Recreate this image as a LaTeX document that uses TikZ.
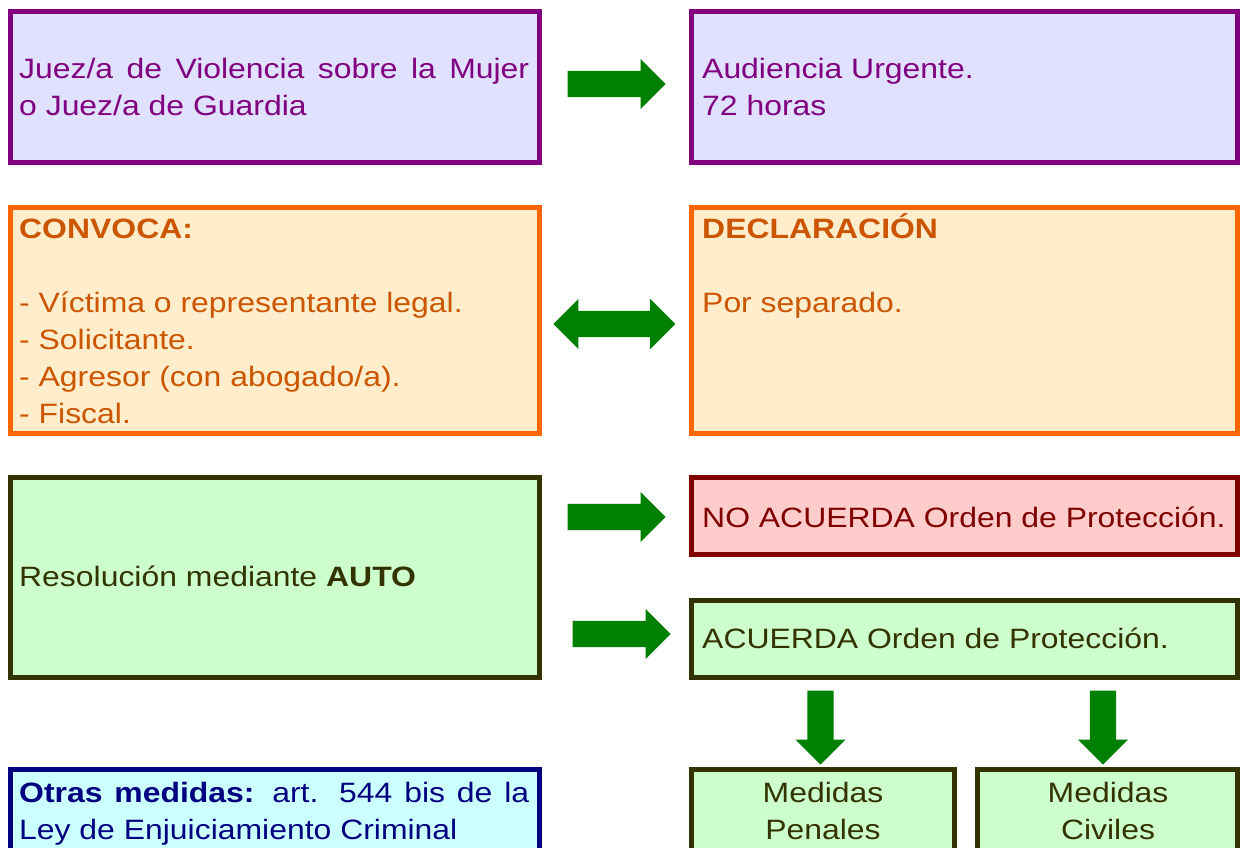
\documentclass[tikz,border=0pt]{standalone}
\usepackage{fontspec}
\setmainfont{Liberation Sans}[FakeStretch=1.14]
\usetikzlibrary{shapes.arrows,calc}

\definecolor{lila}{HTML}{800080}
\definecolor{lilafondo}{HTML}{E0E0FF}
\definecolor{naranja}{HTML}{FF6600}
\definecolor{naranjatexto}{HTML}{CC5500}
\definecolor{cremafondo}{HTML}{FFEDCC}
\definecolor{oliva}{HTML}{333300}
\definecolor{verdefondo}{HTML}{CCFFCC}
\definecolor{granate}{HTML}{800000}
\definecolor{rosafondo}{HTML}{FFCCCC}
\definecolor{marino}{HTML}{000080}
\definecolor{cianfondo}{HTML}{CCFFFF}
\definecolor{verdeflecha}{HTML}{008000}

\tikzset{
  caja/.style={draw, line width=5pt, inner sep=0pt},
  texto/.style={anchor=base west, inner sep=0pt, align=left,
    font=\fontsize{28}{37}\selectfont},
  flecha/.style={single arrow, fill=verdeflecha, inner xsep=0pt, inner ysep=13pt,
    single arrow head extend=12pt, anchor=tail},
}

\begin{document}
\begin{tikzpicture}[x=1pt,y=-1pt]

    \useasboundingbox (0,0) rectangle (1242,848);

    % Boxes
    \node[caja, draw=lila, fill=lilafondo, minimum width=528.5pt, minimum height=151pt] (juez) at (274.75,87) {};
    \node[caja, draw=lila, fill=lilafondo, minimum width=546pt, minimum height=151pt] (audiencia) at (964.5,87) {};
    \node[caja, draw=naranja, fill=cremafondo, minimum width=528.5pt, minimum height=226pt] (convoca) at (274.75,320.5) {};
    \node[caja, draw=naranja, fill=cremafondo, minimum width=546pt, minimum height=226pt] (declaracion) at (964.5,320.5) {};
    \node[caja, draw=oliva, fill=verdefondo, minimum width=528.5pt, minimum height=200pt] (auto) at (274.75,577.5) {};
    \node[caja, draw=granate, fill=rosafondo, minimum width=546pt, minimum height=77pt] (noacuerda) at (964.5,516) {};
    \node[caja, draw=oliva, fill=verdefondo, minimum width=546pt, minimum height=77pt] (acuerda) at (964.5,639) {};
    \node[caja, draw=marino, fill=cianfondo, minimum width=528.5pt, minimum height=130pt] (otras) at (274.75,834.5) {};
    \node[caja, draw=oliva, fill=verdefondo, minimum width=263pt, minimum height=130pt] (penales) at (823,834.5) {};
    \node[caja, draw=oliva, fill=verdefondo, minimum width=260pt, minimum height=130pt] (civiles) at (1107.5,834.5) {};

    % Texts (base = last line)
    \node[texto, text=lila] (tjuez) at (19,115.5)
      {\makebox[510pt][s]{Juez/a de Violencia sobre la Mujer}\\o Juez/a de Guardia};
    \node[texto, text=lila] (taudiencia) at (702,115.5) {Audiencia Urgente.\\72 horas};
    \node[texto, text=naranjatexto] (tconvoca) at (19,423)
      {\textbf{CONVOCA:}\\[37pt]- Víctima o representante legal.\\- Solicitante.\\- Agresor (con abogado/a).\\- Fiscal.};
    \node[texto, text=naranjatexto] (tdeclaracion) at (702,312)
      {\textbf{DECLARACIÓN}\\[37pt]Por separado.};
    \node[texto, text=oliva] (tauto) at (19,586) {Resolución mediante \textbf{AUTO}};
    \node[texto, text=granate] (tnoacuerda) at (702,527) {NO ACUERDA Orden de Protección.};
    \node[texto, text=oliva] (tacuerda) at (702,648) {ACUERDA Orden de Protección.};
    \node[texto, text=marino] (totras) at (19,839)
      {\makebox[510pt][s]{\textbf{Otras medidas:} art. 544 bis de la}\\Ley de Enjuiciamiento Criminal};
    \node[texto, text=oliva, anchor=base, align=center] (tpenales) at (823,839) {Medidas\\Penales};
    \node[texto, text=oliva, anchor=base, align=center] (tciviles) at (1108,839) {Medidas\\Civiles};

    % Arrows
    \node[flecha, minimum height=98pt] (f1) at ($(juez.east)+(26,-3)$) {};
    \node[double arrow, fill=verdeflecha, inner xsep=0pt, inner ysep=13pt,
      double arrow head extend=12pt, minimum height=122pt] (f2)
      at ($(convoca.east)!0.5!(declaracion.west)+(-1,3.5)$) {};
    \node[flecha, minimum height=98pt] (f3) at ($(auto.east |- noacuerda.west)+(26,1)$) {};
    \node[flecha, minimum height=98pt] (f4) at ($(auto.east |- acuerda.west)+(31,-5)$) {};
    \node[flecha, minimum height=74pt, rotate=-90] (f5) at ($(acuerda.south -| penales.north)+(-2.5,10.5)$) {};
    \node[flecha, minimum height=74pt, rotate=-90] (f6) at ($(acuerda.south -| civiles.north)+(-4.5,10.5)$) {};

\end{tikzpicture}
\end{document}
